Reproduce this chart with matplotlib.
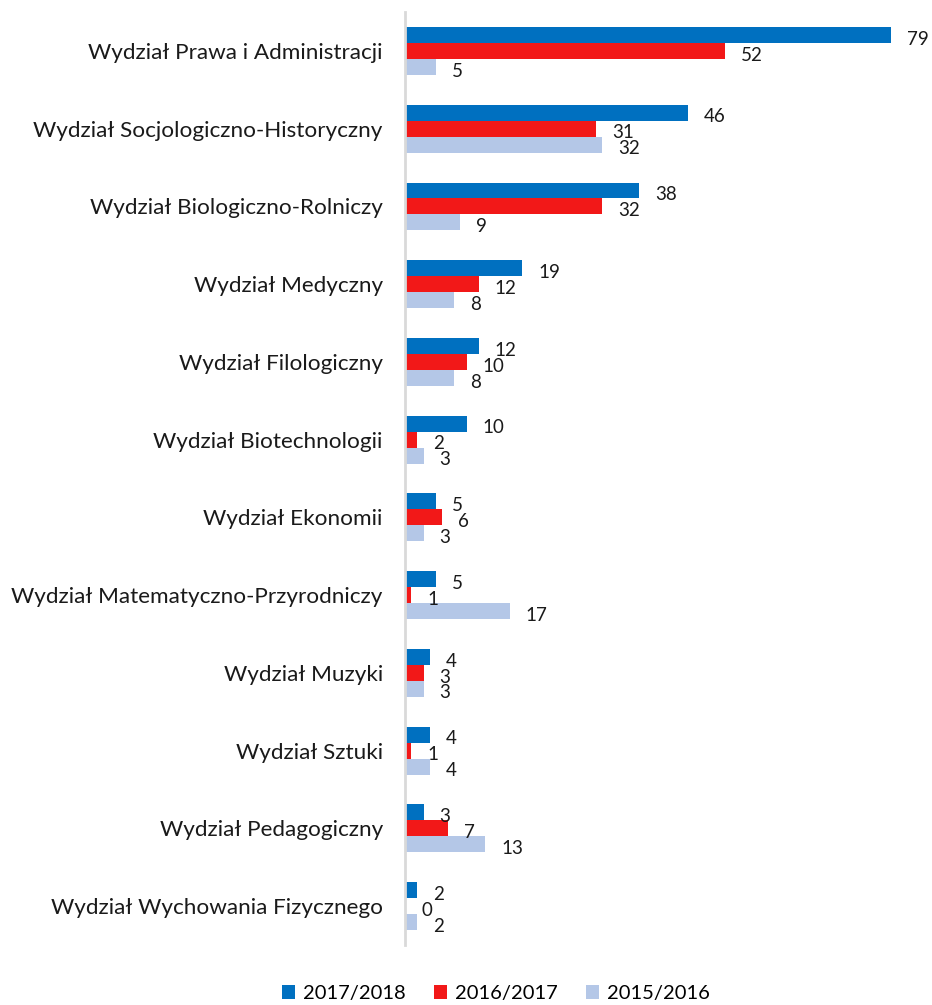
import numpy as np
import matplotlib.pyplot as plt

categories = ['Wydział Prawa i Administracji',
              'Wydział Socjologiczno-Historyczny',
              'Wydział Biologiczno-Rolniczy',
              'Wydział Medyczny',
              'Wydział Filologiczny',
              'Wydział Biotechnologii',
              'Wydział Ekonomii',
              'Wydział Matematyczno-Przyrodniczy',
              'Wydział Muzyki',
              'Wydział Sztuki',
              'Wydział Pedagogiczny',
              'Wydział Wychowania Fizycznego']
v2017 = [79, 46, 38, 19, 12, 10, 5, 5, 4, 4, 3, 2]
v2016 = [52, 31, 32, 12, 10, 2, 6, 1, 3, 1, 7, 0]
v2015 = [5, 32, 9, 8, 8, 3, 3, 17, 3, 4, 13, 2]
series = ['2017/2018', '2016/2017', '2015/2016']
colors = ['#0070C0', '#F21818', '#B4C7E7']

plt.rcParams['font.family'] = ['Lato', 'DejaVu Sans']

fig = plt.figure(figsize=(9.32, 10.05), dpi=100)
ax = fig.add_axes([0.4346, 0.0597, 0.5614, 0.9283])

y = np.arange(len(categories))
h = 0.205
for i, (vals, lab, c) in enumerate(zip([v2017, v2016, v2015], series, colors)):
    pos = y + (i - 1) * h
    ax.barh(pos, vals, height=h, color=c, label=lab)
    for p, v in zip(pos, vals):
        ax.annotate(str(v), (v, p), xytext=(11.5, -3), textcoords='offset points',
                    ha='left', va='center', fontsize=13.5, color='#1a1a1a')

ax.set_ylim(len(categories) - 0.5, -0.5)
ax.set_xlim(0, 85)
ax.set_yticks(y)
ax.set_yticklabels(categories, fontsize=16.2, color='#1a1a1a')
ax.tick_params(axis='y', length=0, pad=16)
ax.set_xticks([])
for s in ['top', 'right', 'bottom']:
    ax.spines[s].set_visible(False)
ax.spines['left'].set_color('#d9d9d9')
ax.spines['left'].set_linewidth(2)

fig.legend(loc='lower center', bbox_to_anchor=(0.532, -0.015), ncol=3, frameon=False,
           fontsize=14.5, handlelength=0.65, handleheight=0.65, handletextpad=0.4,
           columnspacing=1.4)

fig.savefig('out.png', dpi=100)
